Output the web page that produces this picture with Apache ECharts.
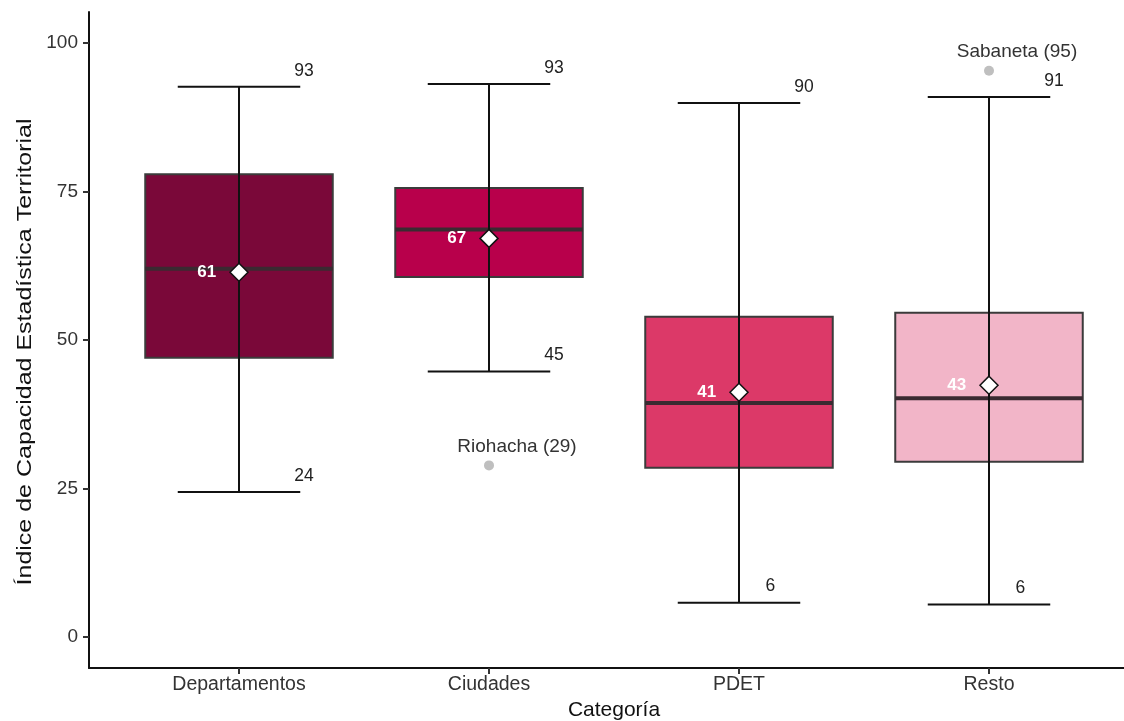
<!DOCTYPE html>
<html>
<head>
<meta charset="utf-8">
<script src="https://cdn.jsdelivr.net/npm/echarts@6/dist/echarts.min.js"></script>
<style>
html,body{margin:0;padding:0;background:#fff;}
#chart{width:1124px;height:721px;}
</style>
</head>
<body>
<div id="chart"></div>
<script>
const categories = ['Departamentos', 'Ciudades', 'PDET', 'Resto'];
const minVals = [24.4, 44.7, 5.8, 5.5];
const q1Vals = [47.0, 60.6, 28.5, 29.5];
const medianVals = [62.0, 68.6, 39.4, 40.2];
const q3Vals = [77.9, 75.6, 53.9, 54.6];
const maxVals = [92.6, 93.1, 89.9, 90.9];
const meanVals = [61.4, 67.1, 41.2, 42.4];
const minLabels = ['24', '45', '6', '6'];
const maxLabels = ['93', '93', '90', '91'];
const meanLabels = ['61', '67', '41', '43'];
const boxColors = ['#7a0839', '#b8004b', '#dc3968', '#f2b5c8'];
const outlierNames = ['Riohacha (29)', 'Sabaneta (95)'];
const outlierCats = ['Ciudades', 'Resto'];
const outlierVals = [28.9, 95.3];
const yTicks = [0, 25, 50, 75, 100];
const xTitle = 'Categoría';
const yTitle = 'Índice de Capacidad Estadística Territorial';

const FONT = "'Liberation Sans', Arial, sans-serif";
const chart = echarts.init(document.getElementById('chart'));

const boxData = categories.map((c, i) => [i + 1, minVals[i], q1Vals[i], medianVals[i], q3Vals[i], maxVals[i]]);
const meanData = categories.map((c, i) => [i + 1, meanVals[i]]);
const outlierData = outlierNames.map((n, i) => ({ name: n, value: [categories.indexOf(outlierCats[i]) + 1, outlierVals[i]] }));
const xPos = categories.map((c, i) => i + 1);

function renderBox(params, api) {
  const i = params.dataIndex;
  const x = api.value(0);
  const pMin = api.coord([x, api.value(1)]);
  const pQ1 = api.coord([x, api.value(2)]);
  const pMed = api.coord([x, api.value(3)]);
  const pQ3 = api.coord([x, api.value(4)]);
  const pMax = api.coord([x, api.value(5)]);
  const unit = api.size([1, 0])[0];
  const cx = pMed[0];
  const bw = unit * 0.75;
  const cw = unit * 0.49;
  const lblOff = (s) => s.length === 1 ? unit * 0.125 : unit * 0.26;
  return {
    type: 'group',
    children: [
      { type: 'rect', shape: { x: cx - bw / 2, y: pQ3[1], width: bw, height: pQ1[1] - pQ3[1] },
        style: { fill: boxColors[i], stroke: '#3b3b3b', lineWidth: 2 } },
      { type: 'line', shape: { x1: cx - bw / 2, y1: pMed[1], x2: cx + bw / 2, y2: pMed[1] },
        style: { stroke: '#3a2a31', lineWidth: 4 } },
      { type: 'line', shape: { x1: cx, y1: pMax[1], x2: cx, y2: pMin[1] },
        style: { stroke: '#111', lineWidth: 2 } },
      { type: 'line', shape: { x1: cx - cw / 2, y1: pMax[1], x2: cx + cw / 2, y2: pMax[1] },
        style: { stroke: '#111', lineWidth: 2 } },
      { type: 'line', shape: { x1: cx - cw / 2, y1: pMin[1], x2: cx + cw / 2, y2: pMin[1] },
        style: { stroke: '#111', lineWidth: 2 } },
      { type: 'text', style: { text: maxLabels[i], x: cx + lblOff(maxLabels[i]), y: pMax[1] - 7,
        fill: '#222', font: '17.5px ' + FONT, textAlign: 'center', textVerticalAlign: 'bottom' } },
      { type: 'text', style: { text: minLabels[i], x: cx + lblOff(minLabels[i]), y: pMin[1] - 7,
        fill: '#222', font: '17.5px ' + FONT, textAlign: 'center', textVerticalAlign: 'bottom' } }
    ]
  };
}

chart.setOption({
  animation: false,
  backgroundColor: '#fff',
  grid: { left: 89, top: 12, width: 1050, height: 656, outerBoundsMode: 'none', containLabel: false },
  graphic: [{
    type: 'text', x: 25, y: 352, rotation: Math.PI / 2, scaleX: 1.25,
    style: { text: yTitle, font: '20px ' + FONT, fill: '#111', textAlign: 'center', textVerticalAlign: 'middle' }
  }],
  xAxis: {
    type: 'value', min: 0.4, max: 4.6,
    name: xTitle, nameLocation: 'middle', nameGap: 31,
    nameTextStyle: { fontSize: 21, color: '#111', fontFamily: FONT },
    axisLine: { show: true, onZero: false, lineStyle: { color: '#111', width: 2 } },
    axisTick: { show: true, length: 6, customValues: xPos, lineStyle: { color: '#333', width: 2 } },
    axisLabel: { customValues: xPos, margin: 7, fontSize: 19.5, color: '#333', fontFamily: FONT,
      formatter: v => categories[Math.round(v) - 1] || '' },
    splitLine: { show: false }
  },
  yAxis: {
    type: 'value', min: -5.2, max: 105.2,
    axisLine: { show: true, onZero: false, lineStyle: { color: '#111', width: 2 } },
    axisTick: { show: true, length: 6, customValues: yTicks, lineStyle: { color: '#333', width: 2 } },
    axisLabel: { customValues: yTicks, margin: 11, fontSize: 19, color: '#333', fontFamily: FONT },
    splitLine: { show: false }
  },
  series: [
    { type: 'custom', renderItem: renderBox, data: boxData, z: 2 },
    { type: 'scatter', data: outlierData, symbol: 'circle', symbolSize: 10, z: 3,
      itemStyle: { color: '#bfbfbf', opacity: 1 },
      label: { show: true, position: 'inside', offset: [28, -19], formatter: p => p.name,
        color: '#333', fontSize: 19, fontFamily: FONT } },
    { type: 'scatter', data: meanData, symbol: 'diamond', symbolSize: [18, 18], z: 4,
      itemStyle: { color: '#fff', borderColor: '#111', borderWidth: 1.5, opacity: 1 },
      label: { show: true, position: 'left', distance: 13, formatter: p => meanLabels[p.dataIndex],
        color: '#fff', fontWeight: 'bold', fontSize: 17, fontFamily: FONT } }
  ]
});
</script>
</body>
</html>
